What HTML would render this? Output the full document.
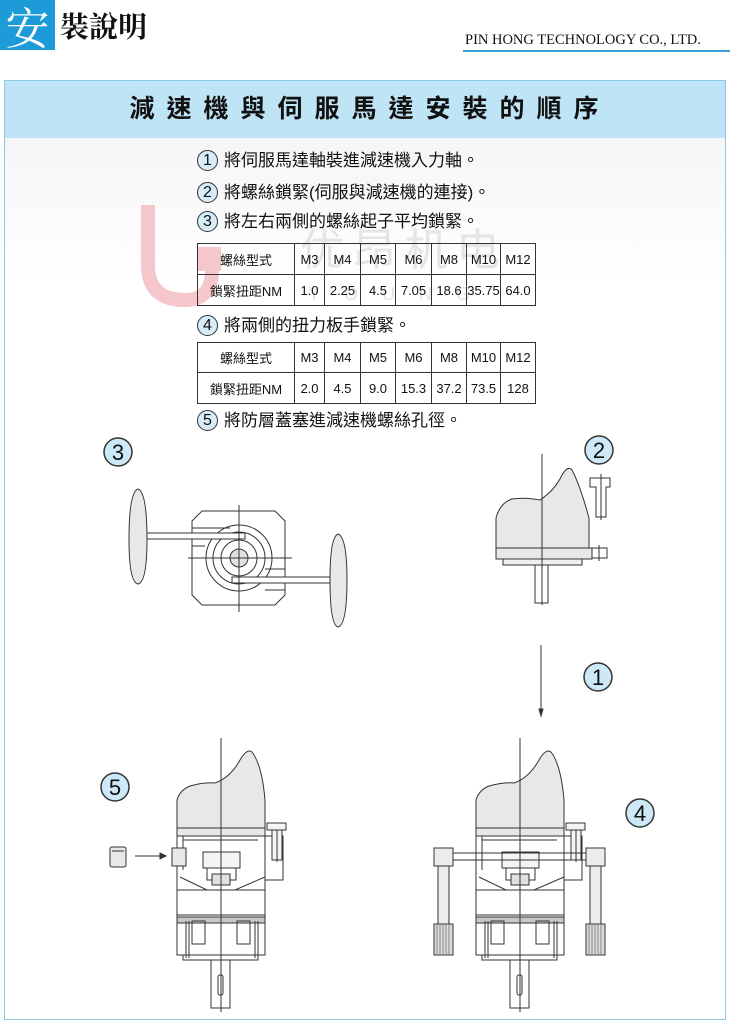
<!DOCTYPE html>
<html><head><meta charset="utf-8">
<style>
html,body{margin:0;padding:0;width:730px;height:1028px;background:#fff;overflow:hidden;font-family:"Liberation Sans","Noto Sans CJK TC",sans-serif;}
.abs{position:absolute;}
.hdrbox{left:0;top:0;width:55px;height:50px;background:#1d9ad8;color:#fff;font-family:"Noto Serif CJK SC",serif;font-size:44px;line-height:50px;text-align:center;}
.hdrt{left:60px;top:8px;font-family:"Noto Serif CJK SC",serif;font-size:29px;font-weight:bold;color:#111;line-height:36px;}
.co{left:465px;top:32px;font-family:"Liberation Serif",serif;font-size:14.5px;color:#111;white-space:nowrap;}
.coline{left:463px;top:50px;width:267px;height:2px;background:#3aa0d6;}
.box{left:4px;top:80px;width:720px;height:938px;border:1px solid #8cc8e6;background:linear-gradient(#f2f2f2 0px,#fff 200px);}
.band{left:5px;top:81px;width:720px;height:57px;background:#bfe4f6;}
.title{left:10px;top:92px;width:720px;text-align:center;font-size:25px;font-weight:bold;letter-spacing:12px;color:#111;line-height:34px;}
.ln{left:197px;font-size:17px;color:#111;white-space:nowrap;line-height:22px;}
.num{display:inline-block;width:19px;height:19px;border:1.5px solid #333;border-radius:50%;background:#d6ecf8;text-align:center;line-height:19px;font-size:16px;margin-right:6px;vertical-align:1px;}
table{border-collapse:collapse;position:absolute;left:197px;font-size:13px;color:#111;table-layout:fixed;width:338px;}
td{border:1px solid #333;text-align:center;padding:0;white-space:nowrap;overflow:hidden;}
</style></head><body>
<div class="abs hdrbox">安</div>
<div class="abs hdrt">裝說明</div>
<div class="abs co">PIN HONG TECHNOLOGY CO., LTD.</div>
<div class="abs coline"></div>
<div class="abs box"></div>
<div class="abs band"></div>
<div class="abs title">減速機與伺服馬達安裝的順序</div>

<svg class="abs" style="left:0;top:0" width="730" height="1028">
<path d="M148,205 L148,265 Q148,300 185,300 Q212,300 212,270" fill="none" stroke="#f5c6cb" stroke-width="14"/>
<rect x="197" y="247" width="24" height="24" fill="#f5c6cb"/>
<text x="300" y="265" font-family="Noto Sans CJK SC,sans-serif" font-size="44" fill="#d6d6d6" opacity="0.6" letter-spacing="8">优昂机电</text>
<text x="308" y="300" font-family="Liberation Sans,sans-serif" font-size="18" fill="#d6d6d6" opacity="0.7" letter-spacing="24">YOUNG</text>
</svg>

<div class="abs ln" style="top:150px"><span class="num">1</span>將伺服馬達軸裝進減速機入力軸。</div>
<div class="abs ln" style="top:182px"><span class="num">2</span>將螺絲鎖緊(伺服與減速機的連接)。</div>
<div class="abs ln" style="top:211px"><span class="num">3</span>將左右兩側的螺絲起子平均鎖緊。</div>
<table style="top:243px">
<colgroup><col style="width:97px"><col style="width:30px"><col style="width:36px"><col style="width:35px"><col style="width:36px"><col style="width:35px"><col style="width:34px"><col style="width:35px"></colgroup>
<tr style="height:31px"><td>螺絲型式</td><td>M3</td><td>M4</td><td>M5</td><td>M6</td><td>M8</td><td>M10</td><td>M12</td></tr>
<tr style="height:31px"><td>鎖緊扭距NM</td><td>1.0</td><td>2.25</td><td>4.5</td><td>7.05</td><td>18.6</td><td>35.75</td><td>64.0</td></tr>
</table>
<div class="abs ln" style="top:315px"><span class="num">4</span>將兩側的扭力板手鎖緊。</div>
<table style="top:342px">
<colgroup><col style="width:97px"><col style="width:30px"><col style="width:36px"><col style="width:35px"><col style="width:36px"><col style="width:35px"><col style="width:34px"><col style="width:35px"></colgroup>
<tr style="height:30px"><td>螺絲型式</td><td>M3</td><td>M4</td><td>M5</td><td>M6</td><td>M8</td><td>M10</td><td>M12</td></tr>
<tr style="height:31px"><td>鎖緊扭距NM</td><td>2.0</td><td>4.5</td><td>9.0</td><td>15.3</td><td>37.2</td><td>73.5</td><td>128</td></tr>
</table>
<div class="abs ln" style="top:410px"><span class="num">5</span>將防層蓋塞進減速機螺絲孔徑。</div>

<svg class="abs" style="left:0;top:0" width="730" height="1028" fill="none" stroke="#333" stroke-width="1">
<defs>
<g id="unit">
<path d="M177,836 L177,800 Q180,790 190,786 Q205,782 215,783 Q230,778 240,760 Q247,748 252,752 Q262,765 265,800 L265,836 Z" fill="#e8e8e8"/>
<line x1="177" y1="828" x2="265" y2="828"/>
<rect x="177" y="836" width="88" height="54"/>
<line x1="183" y1="840" x2="258" y2="840"/>
<line x1="183" y1="836" x2="183" y2="870"/>
<rect x="203" y="852" width="37" height="16" fill="#f4f4f4"/>
<rect x="207" y="868" width="29" height="12"/>
<rect x="212" y="874" width="18" height="11" fill="#e0e0e0"/>
<path d="M180,877 L207,890 M265,877 L235,890"/>
<rect x="177" y="890" width="88" height="25"/>
<rect x="177" y="915" width="88" height="40"/>
<rect x="177" y="917" width="88" height="6" fill="#c8c8c8"/>
<rect x="192" y="921" width="13" height="23"/>
<rect x="237" y="921" width="13" height="23"/>
<path d="M186,921 L186,958 M189,921 L189,958 M258,921 L258,958 M255,921 L255,958"/>
<rect x="183" y="955" width="75" height="5"/>
<rect x="211" y="960" width="19" height="48"/>
<rect x="218" y="975" width="5" height="20" rx="2"/>
<rect x="265" y="836" width="18" height="44"/>
<rect x="267" y="823" width="19" height="7" fill="#f4f4f4"/>
<rect x="272" y="830" width="10" height="30" fill="#f4f4f4"/>
<line x1="277" y1="830" x2="277" y2="862"/>
<line x1="221" y1="738" x2="221" y2="1012"/>
</g>
</defs>
<use href="#unit"/>
<use href="#unit" transform="translate(299,0)"/>
<rect x="110" y="847" width="16" height="20" rx="2" fill="#e8e8e8"/>
<line x1="112" y1="851" x2="124" y2="851"/>
<line x1="135" y1="856" x2="164" y2="856"/>
<path d="M166,856 L160,853 L160,859 Z" fill="#333"/>
<rect x="172" y="848" width="14" height="18" fill="#e8e8e8"/>
<line x1="453" y1="853" x2="586" y2="853"/><line x1="453" y1="860" x2="586" y2="860"/>
<g fill="#ececec">
<rect x="434" y="848" width="19" height="18"/><rect x="438" y="866" width="11" height="58"/>
<rect x="434" y="924" width="19" height="31" fill="#ddd"/>
<rect x="586" y="848" width="19" height="18"/><rect x="590" y="866" width="11" height="58"/>
<rect x="586" y="924" width="19" height="31" fill="#ddd"/>
</g>
<path d="M437,924v31M440,924v31M443,924v31M446,924v31M449,924v31M589,924v31M592,924v31M595,924v31M598,924v31M601,924v31" stroke="#888"/>
<path d="M138,489 Q147,492 147,540 Q147,582 138,584 Q129,582 129,540 Q129,492 138,489 Z" fill="#e8e8e8"/>
<path d="M338,534 Q347,537 347,580 Q347,625 338,627 Q330,625 330,580 Q330,537 338,534 Z" fill="#e8e8e8"/>
<path d="M202,511 L275,511 L285,521 L285,595 L275,605 L202,605 L192,595 L192,521 Z" fill="#fff"/>
<circle cx="239" cy="558" r="33"/><circle cx="239" cy="558" r="26"/><circle cx="239" cy="558" r="18"/>
<circle cx="239" cy="558" r="9" fill="#e0e0e0"/>
<rect x="147" y="533" width="98" height="6" fill="#fff"/>
<rect x="232" y="577" width="98" height="6" fill="#fff"/>
<path d="M192,528 L230,528 M192,546 L205,546 M265,569 L285,569 M265,590 L285,590"/>
<line x1="188" y1="558" x2="292" y2="558"/><line x1="239" y1="505" x2="239" y2="612"/>
<path d="M496,548 L496,518 Q500,503 512,499 Q525,497 540,500 Q555,490 562,475 Q568,465 572,470 Q580,485 589,518 L589,548 Z" fill="#e8e8e8"/>
<rect x="496" y="548" width="96" height="11" fill="#e8e8e8"/>
<rect x="503" y="559" width="79" height="6" fill="#f0f0f0"/>
<rect x="535" y="565" width="13" height="38"/>
<rect x="592" y="548" width="15" height="10" fill="#fff"/><line x1="599" y1="545" x2="599" y2="561"/>
<path d="M590,478 L610,478 L610,487 L606,487 L606,517 L596,517 L596,487 L590,487 Z" fill="#fff"/>
<line x1="601" y1="474" x2="601" y2="520"/>
<line x1="542" y1="454" x2="542" y2="605"/>
<line x1="541" y1="645" x2="541" y2="713"/>
<path d="M541,716 L539,709 L543,709 Z" fill="#333"/>
</svg>

<svg class="abs" style="left:0;top:0" width="730" height="1028" font-family="Liberation Sans,sans-serif" font-size="22" text-anchor="middle">
<g fill="#cde8f7" stroke="#333" stroke-width="1.5">
<circle cx="118" cy="452" r="14"/><circle cx="599" cy="450" r="14"/><circle cx="598" cy="677" r="14"/>
<circle cx="115" cy="787" r="14"/><circle cx="640" cy="813" r="14"/>
</g>
<g fill="#111">
<text x="118" y="460">3</text><text x="599" y="458">2</text><text x="598" y="685">1</text>
<text x="115" y="795">5</text><text x="640" y="821">4</text>
</g>
</svg>
</body></html>
